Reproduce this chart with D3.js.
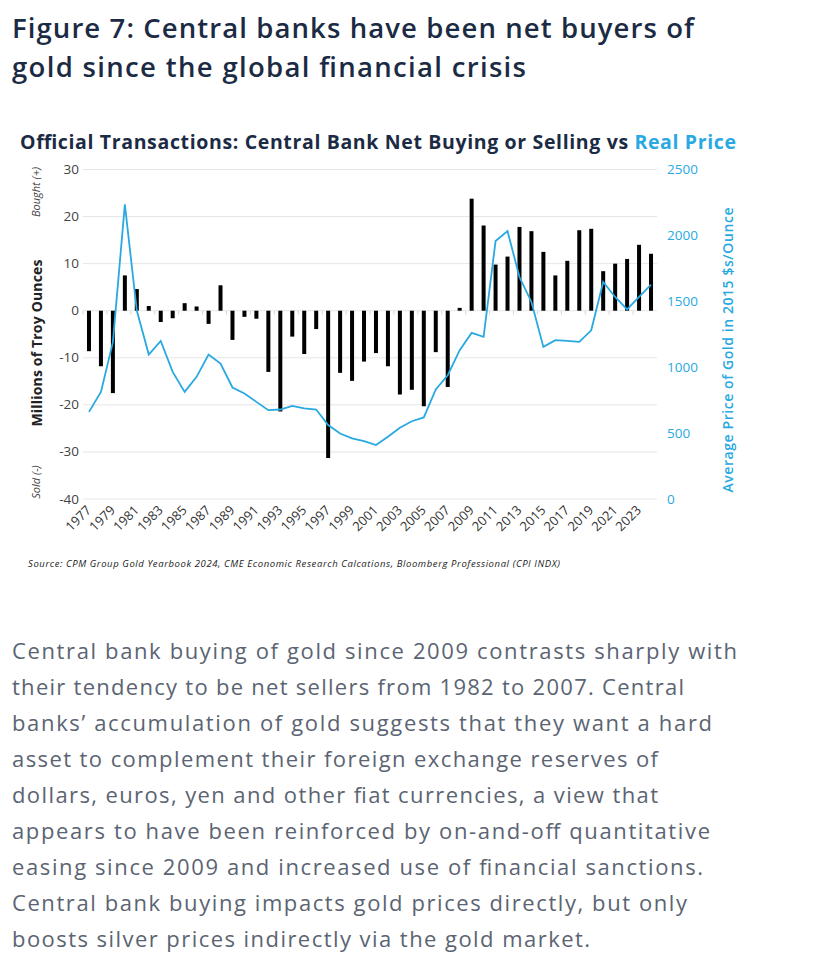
<!DOCTYPE html>
<html>
<head>
<meta charset="utf-8">
<script src="https://cdn.jsdelivr.net/npm/d3@7"></script>
<style>
  body { margin: 0; background: #fff; }
  svg text { font-family: "Open Sans", Lato, sans-serif; }
</style>
</head>
<body>
<svg id="chart"></svg>
<script>
// data
var years = d3.range(1977, 2025);
var netBuying = [-8.6, -11.8, -17.5, 7.5, 4.6, 1.0, -2.4, -1.6, 1.6, 0.9,
    -2.8, 5.4, -6.2, -1.3, -1.7, -13.0, -21.4, -5.5, -9.2, -3.9,
    -31.3, -13.2, -14.9, -10.8, -9.0, -11.8, -17.8, -16.8, -20.3, -8.8,
    -16.2, 0.6, 23.8, 18.1, 9.8, 11.5, 17.8, 16.9, 12.5, 7.5,
    10.6, 17.1, 17.4, 8.4, 10.0, 11.0, 14.0, 12.1];
var realPrice = [661, 813, 1190, 2235, 1430, 1096, 1199, 964, 813, 927,
    1096, 1028, 846, 801, 737, 674, 679, 707, 687, 679,
    561, 497, 460, 439, 409, 472, 540, 590, 619, 831,
    939, 1129, 1260, 1230, 1957, 2033, 1684, 1495, 1154, 1205,
    1199, 1192, 1280, 1646, 1533, 1439, 1533, 1626];
var leftTicks = [30, 20, 10, 0, -10, -20, -30, -40];
var rightTicks = [2500, 2000, 1500, 1000, 500, 0];
var xLabels = d3.range(1977, 2024, 2);

var heading = ["Figure 7: Central banks have been net buyers of",
    "gold since the global financial crisis"];
var headingWidth = [682, 514];
var paragraph = [
    "Central bank buying of gold since 2009 contrasts sharply with",
    "their tendency to be net sellers from 1982 to 2007. Central",
    "banks\u2019 accumulation of gold suggests that they want a hard",
    "asset to complement their foreign exchange reserves of",
    "dollars, euros, yen and other fiat currencies, a view that",
    "appears to have been reinforced by on-and-off quantitative",
    "easing since 2009 and increased use of financial sanctions.",
    "Central bank buying impacts gold prices directly, but only",
    "boosts silver prices indirectly via the gold market."];
var paragraphWidth = [725, 672, 700, 646, 646, 698, 691, 675, 578];

var navy = "#1b2b44", blue = "#29a9e1", grey = "#5b6472";

var svg = d3.select("#chart").attr("width", 819).attr("height", 955);
svg.append("rect").attr("width", 819).attr("height", 955).attr("fill", "#fff");

// heading
svg.append("g").selectAll("text")
    .data(heading)
    .enter().append("text")
    .attr("x", 12)
    .attr("y", function (d, i) { return 38 + i * 39; })
    .attr("textLength", function (d, i) { return headingWidth[i]; })
    .attr("lengthAdjust", "spacing")
    .style("font-size", "27.5px")
    .style("font-weight", 600)
    .style("fill", navy)
    .text(function (d) { return d; });

// chart title
var title = svg.append("text")
    .attr("x", 20).attr("y", 149)
    .attr("textLength", 716).attr("lengthAdjust", "spacing")
    .style("font-size", "19.5px").style("font-weight", 700).style("fill", navy);
title.append("tspan").text("Official Transactions: Central Bank Net Buying or Selling vs ");
title.append("tspan").style("fill", blue).text("Real Price");

var x0 = 83, x1 = 657;
var x = d3.scaleBand().domain(years).range([x0, x1]).padding(0);
var y = d3.scaleLinear().domain([-40, 30]).range([499, 169.5]);
var y2 = d3.scaleLinear().domain([0, 2500]).range([499, 169.5]);

// grid lines
svg.append("g").selectAll("line")
    .data(leftTicks)
    .enter().append("line")
    .attr("x1", x0).attr("x2", x1)
    .attr("y1", function (d) { return y(d); })
    .attr("y2", function (d) { return y(d); })
    .style("stroke", "#e6e6e6").style("stroke-width", 1);

// left axis labels
svg.append("g").selectAll("text")
    .data(leftTicks)
    .enter().append("text")
    .attr("x", 79)
    .attr("y", function (d) { return y(d) + 4.5; })
    .attr("text-anchor", "end")
    .style("font-size", "13.5px").style("fill", "#444")
    .text(function (d) { return d; });

// right axis labels
svg.append("g").selectAll("text")
    .data(rightTicks)
    .enter().append("text")
    .attr("x", 667)
    .attr("y", function (d) { return y2(d) + 4.5; })
    .style("font-size", "13.5px").style("fill", blue)
    .text(function (d) { return d; });

// zero axis ticks
svg.append("g").selectAll("line")
    .data(xLabels)
    .enter().append("line")
    .attr("x1", function (d) { return x(d); })
    .attr("x2", function (d) { return x(d); })
    .attr("y1", y(0)).attr("y2", y(0) + 4)
    .style("stroke", "#d8d8d8");

// bars
svg.append("g").selectAll("rect")
    .data(years)
    .enter().append("rect")
    .attr("x", function (d) { return x(d) + x.bandwidth() / 2 - 2; })
    .attr("width", 4)
    .attr("y", function (d, i) { return y(Math.max(0, netBuying[i])); })
    .attr("height", function (d, i) { return Math.abs(y(netBuying[i]) - y(0)); })
    .style("fill", "#000");

// real price line
var line = d3.line()
    .x(function (d, i) { return x(years[i]) + x.bandwidth() / 2; })
    .y(function (d) { return y2(d); });
svg.append("path")
    .datum(realPrice)
    .attr("d", line)
    .style("fill", "none").style("stroke", blue).style("stroke-width", 1.8);

// x labels
svg.append("g").selectAll("text")
    .data(xLabels)
    .enter().append("text")
    .attr("transform", function (d) {
        return "translate(" + (x(d) + x.bandwidth() / 2 + 3) + ",511) rotate(-45)";
    })
    .attr("text-anchor", "end")
    .style("font-size", "13px").style("fill", "#333")
    .text(function (d) { return d; });

// axis titles
svg.append("text")
    .attr("transform", "translate(42,343) rotate(-90)")
    .attr("text-anchor", "middle")
    .attr("textLength", 167).attr("lengthAdjust", "spacing")
    .style("font-size", "14px").style("font-weight", 700).style("fill", "#222")
    .text("Millions of Troy Ounces");
svg.append("text")
    .attr("transform", "translate(40,192) rotate(-90)")
    .attr("text-anchor", "middle")
    .style("font-size", "11px").style("font-style", "italic").style("fill", "#444")
    .text("Bought (+)");
svg.append("text")
    .attr("transform", "translate(40,482) rotate(-90)")
    .attr("text-anchor", "middle")
    .style("font-size", "11px").style("font-style", "italic").style("fill", "#444")
    .text("Sold (-)");
svg.append("text")
    .attr("transform", "translate(733,350) rotate(-90)")
    .attr("text-anchor", "middle")
    .attr("textLength", 285).attr("lengthAdjust", "spacing")
    .style("font-size", "14px").style("font-weight", 600).style("fill", blue)
    .text("Average Price of Gold in 2015 $s/Ounce");

// source
svg.append("text")
    .attr("x", 28).attr("y", 567)
    .attr("textLength", 532).attr("lengthAdjust", "spacing")
    .style("font-size", "9.5px").style("font-style", "italic").style("fill", "#222")
    .text("Source: CPM Group Gold Yearbook 2024, CME Economic Research Calcations, Bloomberg Professional (CPI INDX)");

// paragraph
svg.append("g").selectAll("text")
    .data(paragraph)
    .enter().append("text")
    .attr("x", 12)
    .attr("y", function (d, i) { return 659 + i * 36; })
    .attr("textLength", function (d, i) { return paragraphWidth[i]; })
    .attr("lengthAdjust", "spacing")
    .style("font-size", "22px")
    .style("fill", grey)
    .text(function (d) { return d; });
</script>
</body>
</html>
